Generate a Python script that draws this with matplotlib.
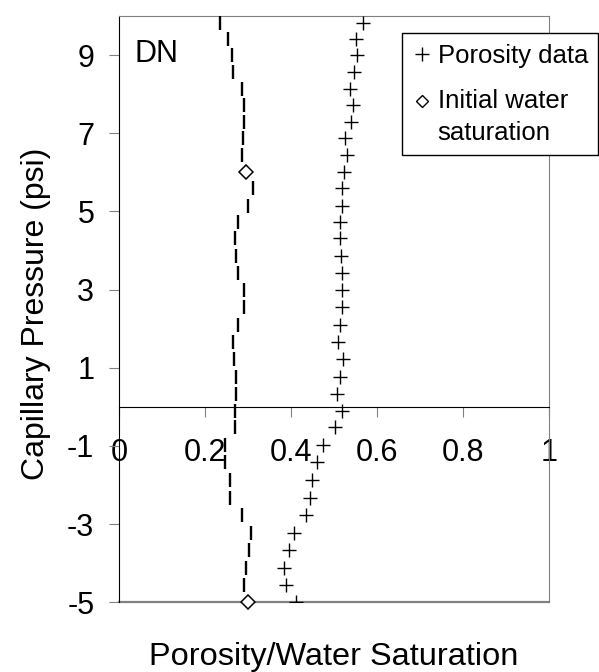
import matplotlib
matplotlib.use("Agg")
import numpy as np
import matplotlib.pyplot as plt
from matplotlib.lines import Line2D
from matplotlib.legend_handler import HandlerLine2D

plt.rcParams['font.family'] = ['Liberation Sans', 'DejaVu Sans']

# Capillary pressure levels (psi)
pressure = [9.82, 9.40, 9.01, 8.58, 8.14, 7.73, 7.30, 6.89, 6.45, 6.02,
            5.60, 5.15, 4.72, 4.32, 3.87, 3.42, 2.99, 2.55, 2.10, 1.67,
            1.22, 0.77, 0.33, -0.10, -0.51, -0.98, -1.41, -1.87, -2.32, -2.77,
            -3.22, -3.67, -4.12, -4.56, -5.00]
# Porosity data
porosity = [0.566, 0.552, 0.554, 0.546, 0.537, 0.545, 0.539, 0.525, 0.529, 0.523,
            0.518, 0.518, 0.514, 0.514, 0.515, 0.518, 0.518, 0.518, 0.514, 0.510,
            0.521, 0.514, 0.506, 0.518, 0.502, 0.475, 0.461, 0.448, 0.444, 0.434,
            0.407, 0.396, 0.383, 0.388, 0.411]
# Water saturation profile
water_sat = [0.234, 0.254, 0.262, 0.264, 0.285, 0.291, 0.291, 0.287, 0.285, 0.294,
             0.310, 0.300, 0.277, 0.269, 0.272, 0.277, 0.291, 0.291, 0.277, 0.264,
             0.268, 0.272, 0.272, 0.269, 0.269, 0.246, 0.246, 0.258, 0.258, 0.285,
             0.306, 0.303, 0.296, 0.291, 0.299]
# Initial water saturation points
init_sw = [0.294, 0.299]
init_p = [6.02, -5.00]

x_ticks = [0, 0.2, 0.4, 0.6, 0.8, 1]
x_tick_labels = ['0', '0.2', '0.4', '0.6', '0.8', '1']
y_ticks = [-5, -3, -1, 1, 3, 5, 7, 9]


class RaisedHandler(HandlerLine2D):
    """Place the legend marker level with the first line of a two-line label."""
    def __init__(self, dy, **kw):
        super().__init__(**kw)
        self.dy = dy

    def create_artists(self, legend, orig_handle, xdescent, ydescent,
                       width, height, fontsize, trans):
        arts = super().create_artists(legend, orig_handle, xdescent, ydescent,
                                      width, height, fontsize, trans)
        for a in arts:
            a.set_ydata(np.asarray(a.get_ydata(), float) + self.dy)
        return arts


fig = plt.figure(figsize=(5.99, 6.72), dpi=100)
W, H = 599, 672
ax = fig.add_axes([119.3 / W, 1 - 602.3 / H, (549 - 119.3) / W, (602.3 - 16) / H])

ax.plot(water_sat, pressure, ls='none', marker='|', markersize=10,
        markeredgewidth=1.7, color='black', zorder=3)
ax.plot(porosity, pressure, ls='none', marker='+', markersize=10,
        markeredgewidth=1.0, color='black', zorder=3)
ax.plot(init_sw, init_p, ls='none', marker='D', markersize=7.5,
        markerfacecolor='white', markeredgecolor='black', markeredgewidth=1.1,
        zorder=4, clip_on=False)

ax.set_xlim(0, 1)
ax.set_ylim(-5, 10)

ax.spines['bottom'].set_position(('data', 0))
ax.spines['bottom'].set_color('black')
ax.spines['left'].set_color('black')
for s in ['top', 'right']:
    ax.spines[s].set_color('#808080')
ax.axhline(-5, color='#808080', lw=1.6, clip_on=False, zorder=2)

ax.set_xticks(x_ticks)
ax.set_xticklabels(x_tick_labels)
ax.set_yticks(y_ticks)
ax.set_yticklabels([str(v) for v in y_ticks])
ax.tick_params(axis='x', direction='out', length=7, color='#808080',
               labelsize=22, pad=15.5)
ax.tick_params(axis='y', direction='out', length=7, color='#808080',
               labelsize=22, pad=11)

ax.set_ylabel('Capillary Pressure (psi)', fontsize=23)
ax.yaxis.set_label_coords(-0.16, 0.492)
ax.set_xlabel('Porosity/Water Saturation', fontsize=23.4)
ax.xaxis.set_label_coords(0.5, -0.068)

ax.text(0.036, 0.921, 'DN', fontsize=22, transform=ax.transAxes)

handles = [Line2D([], [], ls='none', marker='+', markersize=10, markeredgewidth=1.0, color='black'),
           Line2D([], [], ls='none', marker='D', markersize=6.5, markerfacecolor='white',
                  markeredgecolor='black', markeredgewidth=1.0)]
leg = fig.legend(handles, ['Porosity data', 'Initial water\nsaturation'],
                 handler_map={handles[1]: RaisedHandler(dy=12.0)},
                 loc='upper left', bbox_to_anchor=(401.7 / W, 1 - 33.3 / H),
                 bbox_transform=fig.transFigure, fontsize=18.5, frameon=True,
                 fancybox=False, edgecolor='black', framealpha=1,
                 handlelength=0.75, handletextpad=0.25, borderpad=0.4,
                 labelspacing=0.85, borderaxespad=0)
leg.get_frame().set_linewidth(1.0)
for t in leg.get_texts():
    t.set_linespacing(1.4)

fig.savefig('out.png', dpi=100)
